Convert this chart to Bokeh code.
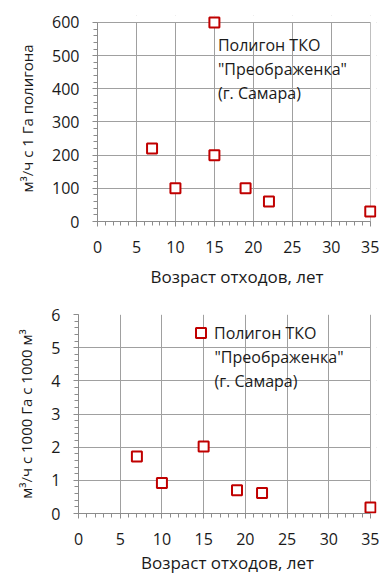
from bokeh.plotting import figure
from bokeh.layouts import column, row
from bokeh.models import (Range1d, SingleIntervalTicker, Label, Legend, LegendItem,
                          ColumnDataSource, BoxAnnotation)
from bokeh.embed import file_html
from bokeh.resources import INLINE

# ---- data ----
age_top = [7, 10, 15, 15, 19, 22, 35]
rate_per_ha = [220, 100, 600, 200, 100, 60, 30]

age_bot = [7, 10, 15, 19, 22, 35]
rate_per_1000 = [1.72, 0.92, 2.02, 0.70, 0.62, 0.18]

x_ticks_max = 35
y_top_max = 600
y_bot_max = 6

x_label = "Возраст отходов, лет"
y_label_top = "м³/ч с 1 Га полигона"
y_label_bot = "м³/ч с 1000 Га с 1000 м³"
site_line1 = "Полигон ТКО"
site_rest = "\"Преображенка\"\n(г. Самара)"
site_text = site_line1 + "\n" + site_rest

FONT = "Open Sans"
RED = "#C00000"
GRID = "#A0A0A0"
AXIS = "#8C8C8C"
TXT = "#1A1A1A"


def style(p, y_int, x_max, y_max, title_standoff):
    for ax, iv in ((p.xaxis, 5), (p.yaxis, y_int)):
        ax.ticker = SingleIntervalTicker(interval=iv, num_minor_ticks=5)
    p.xgrid.ticker = SingleIntervalTicker(interval=5, num_minor_ticks=5)
    p.ygrid.ticker = SingleIntervalTicker(interval=y_int, num_minor_ticks=5)
    p.xaxis.bounds = (0, x_max)
    p.yaxis.bounds = (0, y_max)
    p.xgrid.bounds = (0, x_max)
    p.ygrid.bounds = (0, y_max)
    for g in (p.xgrid, p.ygrid):
        g.grid_line_color = GRID
        g.grid_line_width = 1
    p.outline_line_color = None
    for ax in (p.xaxis, p.yaxis):
        ax.axis_line_color = AXIS
        ax.major_tick_line_color = AXIS
        ax.minor_tick_line_color = AXIS
        ax.major_tick_out = 5
        ax.major_tick_in = 0
        ax.minor_tick_out = 4
        ax.minor_tick_in = 0
        ax.major_label_text_font = FONT
        ax.major_label_text_font_size = "16px"
        ax.major_label_text_color = TXT
        ax.axis_label_text_font = FONT
        ax.axis_label_text_font_style = "normal"
        ax.axis_label_text_color = TXT
    p.xaxis.axis_label_text_font_size = "17px"
    p.yaxis.axis_label_text_font_size = "15px"
    p.xaxis.major_label_standoff = 14
    p.xaxis.axis_label_standoff = title_standoff
    p.yaxis.major_label_standoff = 13
    p.yaxis.axis_label_standoff = 12
    p.background_fill_color = "white"
    p.border_fill_color = "white"
    # hide grid-line overhang beyond the last tick (extra room only for markers)
    p.add_layout(BoxAnnotation(bottom=y_max * 1.0025, fill_color="white", fill_alpha=1,
                               line_color=None, level="underlay"))
    p.add_layout(BoxAnnotation(left=x_max * 1.0015, fill_color="white", fill_alpha=1,
                               line_color=None, level="underlay"))


# ---- top chart ----
p1 = figure(width=379, height=290, output_backend="svg", toolbar_location=None,
            x_range=Range1d(0, 35.8), y_range=Range1d(0, 621),
            min_border_left=97, min_border_right=3, min_border_top=15,
            min_border_bottom=69)
style(p1, 100, x_ticks_max, y_top_max, 9)
p1.xaxis.axis_label = x_label
p1.yaxis.axis_label = y_label_top
src1 = ColumnDataSource(dict(x=age_top, y=rate_per_ha))
p1.scatter("x", "y", source=src1, marker="square", size=10, line_color=RED,
           line_width=2, fill_color="white")
p1.add_layout(Label(x=15.45, y=564, text=site_text, text_font=FONT,
                    text_font_size="16px", text_color=TXT, text_baseline="top",
                    text_line_height=1.08))

# ---- bottom chart ----
p2 = figure(width=379, height=287, output_backend="svg", toolbar_location=None,
            x_range=Range1d(0, 35.72), y_range=Range1d(0, 6),
            min_border_left=78, min_border_right=3, min_border_top=24,
            min_border_bottom=64)
style(p2, 1, x_ticks_max, y_bot_max, 3)
p2.xaxis.axis_label = x_label
p2.yaxis.axis_label = y_label_bot
src2 = ColumnDataSource(dict(x=age_bot, y=rate_per_1000))
r2 = p2.scatter("x", "y", source=src2, marker="square", size=10, line_color=RED,
                line_width=2, fill_color="white")
leg = Legend(items=[LegendItem(label=site_line1, renderers=[r2])],
             location=(110, 168), padding=0, margin=0, spacing=0,
             glyph_width=25, glyph_height=25, label_standoff=1,
             border_line_color=None, background_fill_alpha=0,
             label_text_font=FONT, label_text_font_size="16px",
             label_text_color=TXT)
p2.add_layout(leg, "center")
p2.add_layout(Label(x=16.3, y=5.056, text=site_rest, text_font=FONT,
                    text_font_size="16px", text_color=TXT, text_baseline="top",
                    text_line_height=1.08))

layout = column(row(p1), row(p2), spacing=0)

with open("out.html", "w") as f:
    f.write(file_html(layout, INLINE))
